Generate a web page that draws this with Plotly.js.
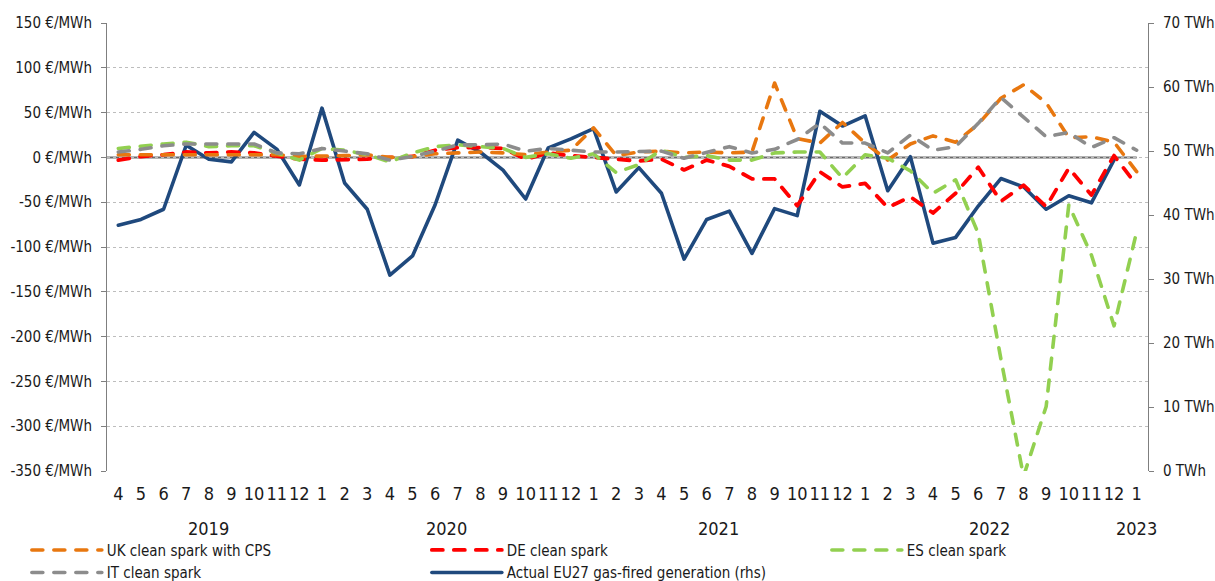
<!DOCTYPE html>
<html>
<head>
<meta charset="utf-8">
<script src="https://cdn.plot.ly/plotly-3.0.1.min.js"></script>
<style>
  html, body { margin: 0; padding: 0; background: #ffffff; }
  #chart { width: 1215px; height: 581px; }
  #chart path.js-line { stroke-linecap: round; stroke-linejoin: round; }
</style>
</head>
<body>
<div id="chart"></div>
<script>
// ---- Data ----
const periods = [
  '2019-04','2019-05','2019-06','2019-07','2019-08','2019-09','2019-10','2019-11','2019-12',
  '2020-01','2020-02','2020-03','2020-04','2020-05','2020-06','2020-07','2020-08','2020-09','2020-10','2020-11','2020-12',
  '2021-01','2021-02','2021-03','2021-04','2021-05','2021-06','2021-07','2021-08','2021-09','2021-10','2021-11','2021-12',
  '2022-01','2022-02','2022-03','2022-04','2022-05','2022-06','2022-07','2022-08','2022-09','2022-10','2022-11','2022-12',
  '2023-01'
];
const monthLabels = periods.map(p => String(parseInt(p.slice(5), 10)));
const yearLabels = ['2019', '2020', '2021', '2022', '2023'];

// €/MWh
const ukCleanSparkCPS = [3,3,4,4,3,4,4,3,1,1, 2,3,0,1,4,5,6,5,3,6, 8,33,2,6,7,5,6,5,6,83, 21,16,39,16,-3,15,24,17,37,66, 81,61,22,23,17,-16];
const deCleanSpark    = [-3,1,3,6,5,6,5,1,-2,-3, -3,-2,0,1,8,11,11,10,-2,5, 2,0,-1,-4,-2,-14,-3,-10,-24,-24, -54,-16,-33,-29,-56,-44,-62,-40,-11,-49, -31,-55,-12,-42,2,-31];
const esCleanSpark    = [10,13,15,17,12,13,13,5,-3,10, 8,3,-5,5,12,14,12,10,0,4, -1,4,-17,-8,8,0,2,-3,-3,5, 6,6,-23,3,-1,-15,-40,-25,-85,-225, -356,-278,-53,-109,-188,-83];
const itCleanSpark    = [6,9,13,15,15,15,15,5,4,10, 7,4,-3,1,7,14,14,15,7,10, 8,6,6,7,7,-1,5,12,5,9, 20,38,16,16,5,25,8,12,38,67, 45,23,28,11,22,8];
// TWh (rhs)
const eu27GasGeneration = [38.4,39.3,40.9,50.9,48.7,48.3,52.9,50.3,44.7,56.7, 45,40.9,30.6,33.6,41.6,51.7,49.8,47,42.5,50.5, 51.9,53.5,43.6,47.4,43.4,33.1,39.3,40.6,34,41, 39.9,56.2,53.9,55.5,43.8,49.1,35.6,36.5,41.4,45.7, 44.4,40.9,43,41.9,48.6,null];

// Axis ticks
const leftTickVals = [150,100,50,0,-50,-100,-150,-200,-250,-300,-350];
const leftTickText = ['150 €/MWh','100 €/MWh','50 €/MWh','0 €/MWh','-50 €/MWh','-100 €/MWh','-150 €/MWh','-200 €/MWh','-250 €/MWh','-300 €/MWh','-350 €/MWh'];
const rightTickVals = [0,10,20,30,40,50,60,70];
const rightTickText = ['0 TWh','10 TWh','20 TWh','30 TWh','40 TWh','50 TWh','60 TWh','70 TWh'];

// ---- Chart ----
const FONT = '"DejaVu Sans Condensed", "DejaVu Sans", sans-serif';
const DASH = '11px,11px';

const traces = [
  {
    name: 'Actual EU27 gas-fired generation (rhs)', x: periods, y: eu27GasGeneration,
    type: 'scatter', mode: 'lines', yaxis: 'y', legend: 'legend2', legendrank: 2,
    line: { color: '#1f497d', width: 3.6 }
  },
  {
    name: 'DE clean spark', x: periods, y: deCleanSpark,
    type: 'scatter', mode: 'lines', yaxis: 'y2', legend: 'legend2', legendrank: 1,
    line: { color: '#ff0000', width: 3.8, dash: DASH }
  },
  {
    name: 'UK clean spark with CPS', x: periods, y: ukCleanSparkCPS,
    type: 'scatter', mode: 'lines', yaxis: 'y2', legend: 'legend', legendrank: 1,
    line: { color: '#e8770f', width: 3.6, dash: DASH }
  },
  {
    name: 'ES clean spark', x: periods, y: esCleanSpark,
    type: 'scatter', mode: 'lines', yaxis: 'y2', legend: 'legend3', legendrank: 1,
    line: { color: '#92d050', width: 3.6, dash: DASH }
  },
  {
    name: 'IT clean spark', x: periods, y: itCleanSpark,
    type: 'scatter', mode: 'lines', yaxis: 'y2', legend: 'legend', legendrank: 2,
    line: { color: '#8c8c8c', width: 3.6, dash: DASH }
  }
];

// year labels centred under their months
const yearAnnotations = yearLabels.map(yr => {
  const idx = periods.map((p, i) => p.startsWith(yr) ? i : -1).filter(i => i >= 0);
  const centre = (idx[0] + idx[idx.length - 1]) / 2;
  return {
    text: yr, x: centre, xref: 'x', y: -0.128, yref: 'paper',
    xanchor: 'center', yanchor: 'middle', showarrow: false,
    font: { family: FONT, size: 18, color: '#1a1a1a' }
  };
});

const legendBase = {
  orientation: 'v', xanchor: 'left', y: -0.14, yanchor: 'top',
  itemwidth: 70, tracegroupgap: 0, traceorder: 'normal',
  font: { family: FONT, size: 15, color: '#1a1a1a' },
  bgcolor: 'rgba(0,0,0,0)', borderwidth: 0
};
const LEG_X0 = -0.077, LEG_STEP = 400 / 1041;

const layout = {
  width: 1215, height: 581,
  margin: { l: 107, r: 67, t: 23, b: 110, pad: 0, autoexpand: false },
  paper_bgcolor: '#ffffff', plot_bgcolor: '#ffffff',
  font: { family: FONT, color: '#1a1a1a', size: 15 },
  showlegend: true,
  legend:  Object.assign({}, legendBase, { x: LEG_X0 }),
  legend2: Object.assign({}, legendBase, { x: LEG_X0 + LEG_STEP }),
  legend3: Object.assign({}, legendBase, { x: LEG_X0 + 2 * LEG_STEP }),
  xaxis: {
    type: 'category', categoryorder: 'array', categoryarray: periods,
    tickvals: periods, ticktext: monthLabels,
    range: [-0.5, periods.length - 0.5],
    showgrid: false, zeroline: false, showline: false, ticks: '',
    ticklabelstandoff: 10,
    tickfont: { family: FONT, size: 18, color: '#1a1a1a' }, tickangle: 0
  },
  yaxis: {
    side: 'right', range: [0, 70],
    tickvals: rightTickVals, ticktext: rightTickText,
    showgrid: false, zeroline: false,
    showline: true, linecolor: '#7f7f7f', linewidth: 1,
    ticks: 'outside', ticklen: 5, tickcolor: '#7f7f7f', ticklabelstandoff: 6,
    tickfont: { family: FONT, size: 15, color: '#1a1a1a' }
  },
  yaxis2: {
    side: 'left', overlaying: 'y', range: [-350, 150],
    tickvals: leftTickVals, ticktext: leftTickText,
    showgrid: true, gridcolor: '#bdbdbd', gridwidth: 1, griddash: 'dot',
    zeroline: false,
    showline: true, linecolor: '#7f7f7f', linewidth: 1,
    ticks: 'outside', ticklen: 5, tickcolor: '#7f7f7f', ticklabelstandoff: 6,
    tickfont: { family: FONT, size: 15, color: '#1a1a1a' }
  },
  shapes: [{
    type: 'line', xref: 'x', yref: 'y2', layer: 'below',
    x0: -0.5, x1: periods.length - 1, y0: 0, y1: 0,
    line: { color: '#6a6a6a', width: 2 }
  }],
  annotations: yearAnnotations
};

Plotly.newPlot('chart', traces, layout, { staticPlot: true, displayModeBar: false });
</script>
</body>
</html>
